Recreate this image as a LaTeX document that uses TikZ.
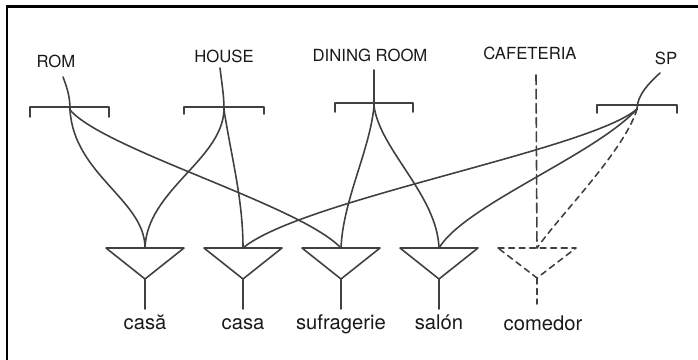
\documentclass[tikz,border=0pt]{standalone}
\usepackage{fontspec}
\setmainfont{TeX Gyre Heros}

\begin{document}
\begin{tikzpicture}[x=0.2mm,y=-0.2mm,line cap=round,line join=round,
  wire/.style={line width=0.9pt,draw=black!75},
  gap/.style={wire,dash pattern=on 3.4pt off 2.6pt},
  sense/.style={font=\fontsize{9.5}{11}\selectfont,anchor=base,text=black!90},
  word/.style={font=\fontsize{11.5}{13}\selectfont,anchor=base,text=black!90}]
  \useasboundingbox (0,0) rectangle (698,360);
  % frame
  \draw[line width=1.7pt,line cap=butt,line join=miter] (7,361) -- (7,6.5) -- (699,6.5);

  % concepts on top
  \node[sense] (rom) at (56,68) {ROM};
  \node[sense] (house) at (224,63) {HOUSE};
  \node[sense] (dining) at (370,62) {DINING ROOM};
  \node[sense] (cafe) at (530,60) {CAFETERIA};
  \node[sense] (sp) at (666,65) {SP};

  \coordinate (rom-in) at (63,77);
  \coordinate (house-in) at (220,68);
  \coordinate (dining-in) at (374,70);
  \coordinate (cafe-in) at (536,75);
  \coordinate (sp-in) at (660,73);

  \coordinate (rom-hub) at (70,110);
  \coordinate (house-hub) at (224,110);
  \coordinate (dining-hub) at (374,106);
  \coordinate (sp-hub) at (637,109);

  % brackets
  \draw[wire] (30,117) -- (30,107) -- (109,107) -- (109,117);
  \draw[wire] (184,114) -- (184,107) -- (264,107) -- (264,114);
  \draw[wire] (335,112) -- (335,103) -- (413,103) -- (413,112);
  \draw[wire] (597,113) -- (597,105) -- (677,105) -- (677,113);

  \draw[wire] (rom-in) .. controls (68,90) and (70,98) .. (rom-hub);
  \draw[wire] (house-in) .. controls (222,85) and (224,95) .. (house-hub);
  \draw[wire] (dining-in) -- (dining-hub);
  \draw[wire] (sp-in) .. controls (650,82) and (637,95) .. (sp-hub);

  % words at the bottom
  \foreach \n/\x/\t in {casa-ro/145/casă, casa-es/243/casa, sufr/341/sufragerie, salon/439/salón}{
    \coordinate (\n) at (\x,248);
    \draw[wire] (\x-39,248) -- (\x+39,248) -- (\x,279) -- cycle;
    \draw[wire] (\x,279) -- (\x,309);
    \node[word] (\n-w) at (\x,329) {\t};
  }
  \coordinate (comedor) at (537,248);
  \draw[gap] (498,248) -- (576,248) -- (537,278) -- cycle;
  \draw[gap] (537,278) -- (537,304);
  \node[word] (comedor-w) at (543,330) {comedor};

  % links
  \draw[wire] (rom-hub) .. controls (74,175) and (145,200) .. (casa-ro);
  \draw[wire] (rom-hub) .. controls (105,150) and (300,205) .. (sufr);
  \draw[wire] (house-hub) .. controls (222,160) and (147,190) .. (casa-ro);
  \draw[wire] (house-hub) .. controls (232,160) and (243,200) .. (casa-es);
  \draw[wire] (dining-hub) .. controls (370,150) and (343,200) .. (sufr);
  \draw[wire] (dining-hub) .. controls (380,150) and (437,195) .. (salon);
  \draw[wire] (sp-hub) .. controls (590,150) and (300,200) .. (casa-es);
  \draw[wire] (sp-hub) .. controls (595,155) and (465,205) .. (salon);
  \draw[gap] (sp-hub) .. controls (625,150) and (560,215) .. (comedor);
  \draw[wire,dash pattern=on 5.5pt off 2.6pt] (cafe-in) -- (comedor);
\end{tikzpicture}
\end{document}
